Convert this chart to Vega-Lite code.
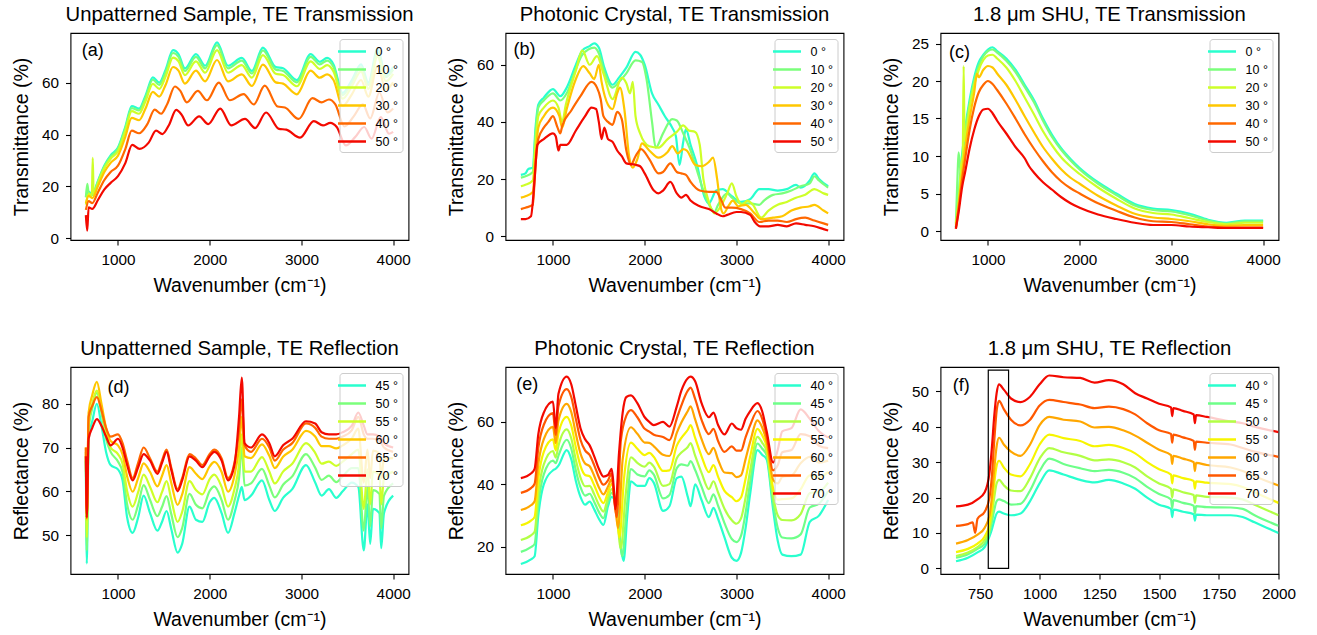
{
"$schema": "https://vega.github.io/schema/vega-lite/v6.json",
"padding": {"left": 10.5, "top": 4, "right": 5, "bottom": 5},
"background": "white",
"bounds": "flush",
"columns": 3,
"spacing": {"row": 127, "column": 97},
"resolve": {"scale": {"color": "independent", "x": "independent", "y": "independent"}, "legend": {"color": "independent"}},
"config": {
 "font": "Liberation Sans",
 "view": {"stroke": "black", "strokeWidth": 1.1},
 "axis": {"grid": false, "domain": false, "tickColor": "black", "tickSize": 5, "tickWidth": 1.1, "labelFontSize": 15.3, "labelColor": "black", "labelPadding": 7, "titleFontSize": 19.5, "titleFontWeight": "normal", "titleColor": "black", "titlePadding": 9.5, "labelFlush": false, "labelOverlap": false},
 "title": {"fontSize": 20.3, "fontWeight": "normal", "color": "black", "offset": 8},
 "legend": {"orient": "top-right", "offset": 6, "padding": 4, "fillColor": "rgba(255,255,255,0.8)", "strokeColor": "#cccccc", "cornerRadius": 3, "symbolType": "M-2,0H2", "symbolSize": 196, "symbolStrokeWidth": 2.5, "labelFontSize": 12.5, "labelColor": "black", "labelOffset": 15, "rowPadding": 3, "titleFontSize": 1},
 "text": {"color": "black"}
},
"datasets": {
"a": [
{"x":650,"y":16,"s":0},{"x":680,"y":18,"s":0},{"x":720,"y":17,"s":0},{"x":780,"y":22,"s":0},{"x":850,"y":28,"s":0},{"x":920,"y":32,"s":0},{"x":1000,"y":35,"s":0},{"x":1080,"y":43,"s":0},{"x":1150,"y":51,"s":0},{"x":1230,"y":50,"s":0},{"x":1300,"y":55,"s":0},{"x":1380,"y":62,"s":0},{"x":1450,"y":60,"s":0},{"x":1520,"y":65,"s":0},{"x":1600,"y":72.5,"s":0},{"x":1660,"y":71,"s":0},{"x":1730,"y":65.5,"s":0},{"x":1850,"y":71,"s":0},{"x":1950,"y":66.5,"s":0},{"x":2080,"y":75.5,"s":0},{"x":2200,"y":66.5,"s":0},{"x":2350,"y":69.5,"s":0},{"x":2460,"y":64.5,"s":0},{"x":2580,"y":73.5,"s":0},{"x":2720,"y":66,"s":0},{"x":2800,"y":65.5,"s":0},{"x":2950,"y":61,"s":0},{"x":3100,"y":71,"s":0},{"x":3200,"y":68,"s":0},{"x":3280,"y":69.5,"s":0},{"x":3350,"y":67,"s":0},{"x":3450,"y":56,"s":0},{"x":3550,"y":61,"s":0},{"x":3650,"y":67,"s":0},{"x":3730,"y":60,"s":0},{"x":3830,"y":73,"s":0},{"x":3920,"y":63,"s":0},{"x":4000,"y":66,"s":0},
{"x":650,"y":15.8,"s":10},{"x":665,"y":21,"s":10},{"x":680,"y":17.7,"s":10},{"x":720,"y":16.7,"s":10},{"x":780,"y":21.7,"s":10},{"x":850,"y":27.6,"s":10},{"x":920,"y":31.5,"s":10},{"x":1000,"y":34.5,"s":10},{"x":1080,"y":42.4,"s":10},{"x":1150,"y":50.2,"s":10},{"x":1230,"y":49.3,"s":10},{"x":1300,"y":54.2,"s":10},{"x":1380,"y":61.1,"s":10},{"x":1450,"y":59.1,"s":10},{"x":1520,"y":64,"s":10},{"x":1600,"y":71.4,"s":10},{"x":1660,"y":69.9,"s":10},{"x":1730,"y":64.5,"s":10},{"x":1850,"y":69.9,"s":10},{"x":1950,"y":65.5,"s":10},{"x":2080,"y":74.4,"s":10},{"x":2200,"y":65.5,"s":10},{"x":2350,"y":68.5,"s":10},{"x":2460,"y":63.5,"s":10},{"x":2580,"y":72.4,"s":10},{"x":2720,"y":65,"s":10},{"x":2800,"y":64.5,"s":10},{"x":2950,"y":60.1,"s":10},{"x":3100,"y":69.9,"s":10},{"x":3200,"y":67,"s":10},{"x":3280,"y":68.5,"s":10},{"x":3350,"y":66,"s":10},{"x":3450,"y":55.2,"s":10},{"x":3550,"y":60.1,"s":10},{"x":3650,"y":66,"s":10},{"x":3730,"y":59.1,"s":10},{"x":3830,"y":71.9,"s":10},{"x":3920,"y":62.1,"s":10},{"x":4000,"y":65,"s":10},
{"x":650,"y":13,"s":20},{"x":680,"y":17.3,"s":20},{"x":715,"y":16.3,"s":20},{"x":725,"y":31,"s":20},{"x":735,"y":16.5,"s":20},{"x":780,"y":21.1,"s":20},{"x":850,"y":26.9,"s":20},{"x":920,"y":30.7,"s":20},{"x":1000,"y":33.6,"s":20},{"x":1080,"y":41.3,"s":20},{"x":1150,"y":49,"s":20},{"x":1230,"y":48,"s":20},{"x":1300,"y":52.8,"s":20},{"x":1380,"y":59.5,"s":20},{"x":1450,"y":57.6,"s":20},{"x":1520,"y":62.4,"s":20},{"x":1600,"y":69.6,"s":20},{"x":1660,"y":68.2,"s":20},{"x":1730,"y":62.9,"s":20},{"x":1850,"y":68.2,"s":20},{"x":1950,"y":63.8,"s":20},{"x":2080,"y":72.5,"s":20},{"x":2200,"y":63.8,"s":20},{"x":2350,"y":66.7,"s":20},{"x":2460,"y":61.9,"s":20},{"x":2580,"y":70.6,"s":20},{"x":2720,"y":63.4,"s":20},{"x":2800,"y":62.9,"s":20},{"x":2950,"y":58.6,"s":20},{"x":3100,"y":68.2,"s":20},{"x":3200,"y":65.3,"s":20},{"x":3280,"y":66.7,"s":20},{"x":3350,"y":64.3,"s":20},{"x":3450,"y":53.8,"s":20},{"x":3550,"y":58.6,"s":20},{"x":3650,"y":64.3,"s":20},{"x":3730,"y":57.6,"s":20},{"x":3830,"y":70.1,"s":20},{"x":3920,"y":60.5,"s":20},{"x":4000,"y":63.4,"s":20},
{"x":650,"y":13.5,"s":30},{"x":680,"y":16.4,"s":30},{"x":720,"y":15.5,"s":30},{"x":780,"y":20,"s":30},{"x":850,"y":25.5,"s":30},{"x":920,"y":29.1,"s":30},{"x":1000,"y":31.9,"s":30},{"x":1080,"y":39.1,"s":30},{"x":1150,"y":46.4,"s":30},{"x":1230,"y":45.5,"s":30},{"x":1300,"y":50,"s":30},{"x":1380,"y":56.4,"s":30},{"x":1450,"y":54.6,"s":30},{"x":1520,"y":59.2,"s":30},{"x":1600,"y":66,"s":30},{"x":1660,"y":64.6,"s":30},{"x":1730,"y":59.6,"s":30},{"x":1850,"y":64.6,"s":30},{"x":1950,"y":60.5,"s":30},{"x":2080,"y":68.7,"s":30},{"x":2200,"y":60.5,"s":30},{"x":2350,"y":63.2,"s":30},{"x":2460,"y":58.7,"s":30},{"x":2580,"y":66.9,"s":30},{"x":2720,"y":60.1,"s":30},{"x":2800,"y":59.6,"s":30},{"x":2950,"y":55.5,"s":30},{"x":3100,"y":64.6,"s":30},{"x":3200,"y":61.9,"s":30},{"x":3280,"y":63.2,"s":30},{"x":3350,"y":61,"s":30},{"x":3450,"y":51,"s":30},{"x":3550,"y":55.5,"s":30},{"x":3650,"y":61,"s":30},{"x":3730,"y":54.6,"s":30},{"x":3830,"y":66.4,"s":30},{"x":3920,"y":57.3,"s":30},{"x":4000,"y":60.1,"s":30},
{"x":650,"y":11,"s":40},{"x":680,"y":14.4,"s":40},{"x":720,"y":13.6,"s":40},{"x":780,"y":17.6,"s":40},{"x":850,"y":22.4,"s":40},{"x":920,"y":25.6,"s":40},{"x":1000,"y":28,"s":40},{"x":1080,"y":34.4,"s":40},{"x":1150,"y":41.5,"s":40},{"x":1230,"y":40.5,"s":40},{"x":1320,"y":44,"s":40},{"x":1400,"y":49.6,"s":40},{"x":1470,"y":48,"s":40},{"x":1540,"y":52,"s":40},{"x":1620,"y":58.5,"s":40},{"x":1680,"y":56.8,"s":40},{"x":1750,"y":52.4,"s":40},{"x":1870,"y":56.8,"s":40},{"x":1970,"y":53.2,"s":40},{"x":2100,"y":60,"s":40},{"x":2220,"y":53.2,"s":40},{"x":2370,"y":55.6,"s":40},{"x":2480,"y":51.6,"s":40},{"x":2600,"y":58.8,"s":40},{"x":2740,"y":50.8,"s":40},{"x":2820,"y":50.4,"s":40},{"x":2970,"y":46,"s":40},{"x":3120,"y":54,"s":40},{"x":3220,"y":52.4,"s":40},{"x":3300,"y":53.5,"s":40},{"x":3370,"y":51.6,"s":40},{"x":3470,"y":43.1,"s":40},{"x":3570,"y":47,"s":40},{"x":3670,"y":51.6,"s":40},{"x":3750,"y":46.2,"s":40},{"x":3850,"y":56.2,"s":40},{"x":3940,"y":48.5,"s":40},{"x":4000,"y":50,"s":40},
{"x":650,"y":9,"s":50},{"x":665,"y":3,"s":50},{"x":680,"y":12,"s":50},{"x":720,"y":11.4,"s":50},{"x":780,"y":14.7,"s":50},{"x":850,"y":18.8,"s":50},{"x":920,"y":21.4,"s":50},{"x":1000,"y":24,"s":50},{"x":1080,"y":29,"s":50},{"x":1155,"y":36,"s":50},{"x":1235,"y":34.5,"s":50},{"x":1335,"y":36.9,"s":50},{"x":1415,"y":41.5,"s":50},{"x":1485,"y":40.2,"s":50},{"x":1555,"y":43.6,"s":50},{"x":1635,"y":49.5,"s":50},{"x":1695,"y":47.6,"s":50},{"x":1765,"y":43.5,"s":50},{"x":1885,"y":47,"s":50},{"x":1985,"y":44,"s":50},{"x":2115,"y":50,"s":50},{"x":2235,"y":43.5,"s":50},{"x":2385,"y":46,"s":50},{"x":2495,"y":42.5,"s":50},{"x":2615,"y":48.5,"s":50},{"x":2755,"y":42.2,"s":50},{"x":2835,"y":41.9,"s":50},{"x":2985,"y":38.8,"s":50},{"x":3135,"y":45.2,"s":50},{"x":3235,"y":43.5,"s":50},{"x":3315,"y":44.5,"s":50},{"x":3385,"y":42.9,"s":50},{"x":3485,"y":35.8,"s":50},{"x":3585,"y":39,"s":50},{"x":3685,"y":42.9,"s":50},{"x":3765,"y":38.4,"s":50},{"x":3865,"y":46.7,"s":50},{"x":3955,"y":40.3,"s":50},{"x":4000,"y":41,"s":50}
],
"b": [
{"x":650,"y":21.5,"s":0},{"x":700,"y":22,"s":0},{"x":730,"y":23.5,"s":0},{"x":780,"y":24,"s":0},{"x":810,"y":38,"s":0},{"x":840,"y":46,"s":0},{"x":900,"y":48.5,"s":0},{"x":1000,"y":51.5,"s":0},{"x":1080,"y":49,"s":0},{"x":1150,"y":52,"s":0},{"x":1250,"y":60,"s":0},{"x":1320,"y":65,"s":0},{"x":1400,"y":66.5,"s":0},{"x":1450,"y":67.5,"s":0},{"x":1500,"y":66,"s":0},{"x":1560,"y":59,"s":0},{"x":1650,"y":53,"s":0},{"x":1720,"y":55.5,"s":0},{"x":1800,"y":59,"s":0},{"x":1900,"y":64.5,"s":0},{"x":1950,"y":63.5,"s":0},{"x":2000,"y":60,"s":0},{"x":2080,"y":50,"s":0},{"x":2150,"y":46,"s":0},{"x":2220,"y":42,"s":0},{"x":2300,"y":38,"s":0},{"x":2340,"y":35,"s":0},{"x":2380,"y":25,"s":0},{"x":2420,"y":33,"s":0},{"x":2450,"y":37.5,"s":0},{"x":2500,"y":32,"s":0},{"x":2570,"y":25,"s":0},{"x":2650,"y":14,"s":0},{"x":2700,"y":11.5,"s":0},{"x":2780,"y":16,"s":0},{"x":2850,"y":16.5,"s":0},{"x":2950,"y":14,"s":0},{"x":3050,"y":12,"s":0},{"x":3150,"y":13,"s":0},{"x":3250,"y":16.5,"s":0},{"x":3350,"y":16.5,"s":0},{"x":3450,"y":16,"s":0},{"x":3550,"y":16.5,"s":0},{"x":3650,"y":18,"s":0},{"x":3700,"y":17,"s":0},{"x":3800,"y":19.5,"s":0},{"x":3850,"y":22,"s":0},{"x":3900,"y":20,"s":0},{"x":4000,"y":17.5,"s":0},
{"x":650,"y":20.5,"s":10},{"x":700,"y":21,"s":10},{"x":780,"y":22.5,"s":10},{"x":810,"y":36,"s":10},{"x":840,"y":45,"s":10},{"x":900,"y":47.5,"s":10},{"x":1000,"y":50,"s":10},{"x":1080,"y":47.5,"s":10},{"x":1150,"y":50,"s":10},{"x":1250,"y":58.5,"s":10},{"x":1320,"y":63.5,"s":10},{"x":1450,"y":66,"s":10},{"x":1500,"y":64,"s":10},{"x":1560,"y":57.5,"s":10},{"x":1650,"y":52,"s":10},{"x":1720,"y":54,"s":10},{"x":1800,"y":57,"s":10},{"x":1900,"y":61.5,"s":10},{"x":1970,"y":61,"s":10},{"x":2020,"y":55,"s":10},{"x":2080,"y":40,"s":10},{"x":2120,"y":31,"s":10},{"x":2200,"y":36,"s":10},{"x":2300,"y":41,"s":10},{"x":2350,"y":40.5,"s":10},{"x":2420,"y":36,"s":10},{"x":2500,"y":30,"s":10},{"x":2580,"y":22,"s":10},{"x":2650,"y":15,"s":10},{"x":2720,"y":10,"s":10},{"x":2760,"y":8.5,"s":10},{"x":2800,"y":11,"s":10},{"x":2900,"y":15,"s":10},{"x":2950,"y":13.5,"s":10},{"x":3050,"y":11.5,"s":10},{"x":3150,"y":11.5,"s":10},{"x":3250,"y":11,"s":10},{"x":3300,"y":12.5,"s":10},{"x":3400,"y":14.5,"s":10},{"x":3500,"y":15,"s":10},{"x":3600,"y":16,"s":10},{"x":3700,"y":17.5,"s":10},{"x":3800,"y":18.5,"s":10},{"x":3850,"y":21,"s":10},{"x":3900,"y":19.5,"s":10},{"x":4000,"y":17,"s":10},
{"x":650,"y":17.5,"s":20},{"x":700,"y":18,"s":20},{"x":780,"y":19.5,"s":20},{"x":810,"y":32,"s":20},{"x":840,"y":42,"s":20},{"x":900,"y":45,"s":20},{"x":1000,"y":47.5,"s":20},{"x":1060,"y":45,"s":20},{"x":1100,"y":40,"s":20},{"x":1140,"y":46,"s":20},{"x":1250,"y":58,"s":20},{"x":1320,"y":65,"s":20},{"x":1400,"y":60,"s":20},{"x":1480,"y":63,"s":20},{"x":1550,"y":57,"s":20},{"x":1650,"y":48,"s":20},{"x":1750,"y":55.5,"s":20},{"x":1800,"y":53.5,"s":20},{"x":1840,"y":50,"s":20},{"x":1870,"y":54,"s":20},{"x":1900,"y":42,"s":20},{"x":1950,"y":36,"s":20},{"x":2050,"y":31.5,"s":20},{"x":2150,"y":31,"s":20},{"x":2250,"y":34,"s":20},{"x":2350,"y":36.5,"s":20},{"x":2420,"y":38.8,"s":20},{"x":2480,"y":37,"s":20},{"x":2550,"y":36.5,"s":20},{"x":2600,"y":32,"s":20},{"x":2640,"y":20,"s":20},{"x":2700,"y":12,"s":20},{"x":2760,"y":8,"s":20},{"x":2820,"y":10,"s":20},{"x":2900,"y":15,"s":20},{"x":2950,"y":18.5,"s":20},{"x":3000,"y":14,"s":20},{"x":3060,"y":11,"s":20},{"x":3120,"y":12.5,"s":20},{"x":3180,"y":11,"s":20},{"x":3270,"y":6.5,"s":20},{"x":3350,"y":9,"s":20},{"x":3450,"y":11,"s":20},{"x":3550,"y":12,"s":20},{"x":3650,"y":13.5,"s":20},{"x":3750,"y":14.5,"s":20},{"x":3850,"y":16.5,"s":20},{"x":3950,"y":15,"s":20},{"x":4000,"y":14.5,"s":20},
{"x":650,"y":13.5,"s":30},{"x":700,"y":14,"s":30},{"x":780,"y":15.5,"s":30},{"x":810,"y":28,"s":30},{"x":840,"y":38,"s":30},{"x":900,"y":42,"s":30},{"x":1000,"y":45,"s":30},{"x":1070,"y":42,"s":30},{"x":1100,"y":38,"s":30},{"x":1150,"y":44.5,"s":30},{"x":1250,"y":55,"s":30},{"x":1330,"y":59.5,"s":30},{"x":1400,"y":57,"s":30},{"x":1450,"y":55,"s":30},{"x":1500,"y":60,"s":30},{"x":1530,"y":54,"s":30},{"x":1600,"y":46,"s":30},{"x":1650,"y":44.5,"s":30},{"x":1700,"y":50,"s":30},{"x":1730,"y":52,"s":30},{"x":1780,"y":44,"s":30},{"x":1830,"y":28,"s":30},{"x":1870,"y":24,"s":30},{"x":1920,"y":27,"s":30},{"x":1970,"y":32.5,"s":30},{"x":2050,"y":30,"s":30},{"x":2150,"y":27.5,"s":30},{"x":2250,"y":29.5,"s":30},{"x":2300,"y":31.5,"s":30},{"x":2360,"y":29,"s":30},{"x":2420,"y":30.5,"s":30},{"x":2460,"y":30,"s":30},{"x":2550,"y":25,"s":30},{"x":2620,"y":24.5,"s":30},{"x":2700,"y":26,"s":30},{"x":2745,"y":27.5,"s":30},{"x":2790,"y":20,"s":30},{"x":2830,"y":10,"s":30},{"x":2860,"y":8,"s":30},{"x":2920,"y":11,"s":30},{"x":2960,"y":12.5,"s":30},{"x":3020,"y":10.5,"s":30},{"x":3100,"y":11,"s":30},{"x":3200,"y":8,"s":30},{"x":3270,"y":6,"s":30},{"x":3400,"y":6.5,"s":30},{"x":3500,"y":7,"s":30},{"x":3600,"y":9,"s":30},{"x":3700,"y":10,"s":30},{"x":3800,"y":10.5,"s":30},{"x":3850,"y":11,"s":30},{"x":3950,"y":9,"s":30},{"x":4000,"y":8,"s":30},
{"x":650,"y":9.5,"s":40},{"x":700,"y":10,"s":40},{"x":780,"y":11,"s":40},{"x":810,"y":25,"s":40},{"x":840,"y":34,"s":40},{"x":900,"y":38,"s":40},{"x":950,"y":40,"s":40},{"x":1000,"y":42,"s":40},{"x":1050,"y":38,"s":40},{"x":1080,"y":36,"s":40},{"x":1100,"y":38.5,"s":40},{"x":1200,"y":44,"s":40},{"x":1300,"y":49,"s":40},{"x":1420,"y":54,"s":40},{"x":1480,"y":52,"s":40},{"x":1520,"y":48,"s":40},{"x":1550,"y":42,"s":40},{"x":1600,"y":40,"s":40},{"x":1650,"y":39,"s":40},{"x":1700,"y":43.5,"s":40},{"x":1750,"y":41,"s":40},{"x":1800,"y":30,"s":40},{"x":1850,"y":25,"s":40},{"x":1900,"y":28,"s":40},{"x":1960,"y":30.5,"s":40},{"x":2050,"y":27,"s":40},{"x":2150,"y":22,"s":40},{"x":2200,"y":22.5,"s":40},{"x":2280,"y":25.5,"s":40},{"x":2350,"y":22.5,"s":40},{"x":2400,"y":22,"s":40},{"x":2450,"y":21.5,"s":40},{"x":2500,"y":19,"s":40},{"x":2600,"y":16,"s":40},{"x":2700,"y":15.5,"s":40},{"x":2780,"y":15.5,"s":40},{"x":2830,"y":13,"s":40},{"x":2880,"y":10,"s":40},{"x":2950,"y":10,"s":40},{"x":3050,"y":9.5,"s":40},{"x":3150,"y":8,"s":40},{"x":3250,"y":5,"s":40},{"x":3350,"y":5.5,"s":40},{"x":3450,"y":5.5,"s":40},{"x":3550,"y":5,"s":40},{"x":3650,"y":6,"s":40},{"x":3750,"y":6.5,"s":40},{"x":3850,"y":5.5,"s":40},{"x":3950,"y":4.5,"s":40},{"x":4000,"y":4,"s":40},
{"x":650,"y":6,"s":50},{"x":700,"y":6,"s":50},{"x":760,"y":7,"s":50},{"x":800,"y":20,"s":50},{"x":830,"y":32,"s":50},{"x":900,"y":34,"s":50},{"x":1000,"y":36,"s":50},{"x":1030,"y":35,"s":50},{"x":1060,"y":30,"s":50},{"x":1080,"y":32,"s":50},{"x":1150,"y":32,"s":50},{"x":1250,"y":37,"s":50},{"x":1350,"y":42,"s":50},{"x":1420,"y":45,"s":50},{"x":1470,"y":44.5,"s":50},{"x":1500,"y":40,"s":50},{"x":1530,"y":34,"s":50},{"x":1560,"y":38,"s":50},{"x":1600,"y":34,"s":50},{"x":1650,"y":33,"s":50},{"x":1700,"y":30,"s":50},{"x":1750,"y":28,"s":50},{"x":1800,"y":25.5,"s":50},{"x":1900,"y":25,"s":50},{"x":1950,"y":24.5,"s":50},{"x":2000,"y":22,"s":50},{"x":2100,"y":16,"s":50},{"x":2150,"y":15,"s":50},{"x":2200,"y":16,"s":50},{"x":2280,"y":19,"s":50},{"x":2350,"y":15,"s":50},{"x":2400,"y":13.5,"s":50},{"x":2450,"y":14.5,"s":50},{"x":2500,"y":12.5,"s":50},{"x":2600,"y":10.5,"s":50},{"x":2700,"y":9.5,"s":50},{"x":2780,"y":8,"s":50},{"x":2850,"y":7,"s":50},{"x":2900,"y":7.5,"s":50},{"x":3000,"y":8.5,"s":50},{"x":3050,"y":8.5,"s":50},{"x":3150,"y":7.5,"s":50},{"x":3200,"y":5,"s":50},{"x":3260,"y":3.5,"s":50},{"x":3350,"y":3.5,"s":50},{"x":3450,"y":4,"s":50},{"x":3550,"y":3.5,"s":50},{"x":3650,"y":4.5,"s":50},{"x":3750,"y":4,"s":50},{"x":3850,"y":3.5,"s":50},{"x":3950,"y":2.5,"s":50},{"x":4000,"y":2,"s":50}
],
"c": [
{"x":650,"y":0.5,"s":0},{"x":670,"y":3,"s":0},{"x":700,"y":8,"s":0},{"x":750,"y":13.5,"s":0},{"x":800,"y":17.5,"s":0},{"x":850,"y":20.5,"s":0},{"x":900,"y":22.5,"s":0},{"x":950,"y":23.5,"s":0},{"x":1000,"y":24.2,"s":0},{"x":1050,"y":24.5,"s":0},{"x":1100,"y":24,"s":0},{"x":1200,"y":23,"s":0},{"x":1300,"y":21.5,"s":0},{"x":1400,"y":19.5,"s":0},{"x":1500,"y":17.5,"s":0},{"x":1600,"y":15,"s":0},{"x":1700,"y":12.8,"s":0},{"x":1800,"y":11,"s":0},{"x":1900,"y":9.6,"s":0},{"x":2000,"y":8.4,"s":0},{"x":2200,"y":6.5,"s":0},{"x":2400,"y":5,"s":0},{"x":2600,"y":3.6,"s":0},{"x":2800,"y":3,"s":0},{"x":3000,"y":2.8,"s":0},{"x":3200,"y":2.3,"s":0},{"x":3400,"y":1.5,"s":0},{"x":3600,"y":1.1,"s":0},{"x":3800,"y":1.4,"s":0},{"x":4000,"y":1.4,"s":0},
{"x":650,"y":1,"s":10},{"x":670,"y":8,"s":10},{"x":680,"y":10.5,"s":10},{"x":700,"y":8,"s":10},{"x":750,"y":13,"s":10},{"x":800,"y":17,"s":10},{"x":850,"y":20,"s":10},{"x":900,"y":22,"s":10},{"x":950,"y":23.3,"s":10},{"x":1000,"y":24,"s":10},{"x":1050,"y":24.2,"s":10},{"x":1100,"y":23.8,"s":10},{"x":1200,"y":22.7,"s":10},{"x":1300,"y":21.2,"s":10},{"x":1400,"y":19.2,"s":10},{"x":1500,"y":17.2,"s":10},{"x":1600,"y":14.7,"s":10},{"x":1700,"y":12.5,"s":10},{"x":1800,"y":10.8,"s":10},{"x":1900,"y":9.4,"s":10},{"x":2000,"y":8.2,"s":10},{"x":2200,"y":6.3,"s":10},{"x":2400,"y":4.8,"s":10},{"x":2600,"y":3.4,"s":10},{"x":2800,"y":2.8,"s":10},{"x":3000,"y":2.6,"s":10},{"x":3200,"y":2.1,"s":10},{"x":3400,"y":1.4,"s":10},{"x":3600,"y":1,"s":10},{"x":3800,"y":1.3,"s":10},{"x":4000,"y":1.3,"s":10},
{"x":650,"y":0.8,"s":20},{"x":680,"y":4,"s":20},{"x":710,"y":9,"s":20},{"x":725,"y":10,"s":20},{"x":735,"y":22,"s":20},{"x":745,"y":12,"s":20},{"x":800,"y":16.5,"s":20},{"x":850,"y":19.5,"s":20},{"x":900,"y":21.5,"s":20},{"x":950,"y":22.8,"s":20},{"x":1000,"y":23.4,"s":20},{"x":1050,"y":23.5,"s":20},{"x":1100,"y":23,"s":20},{"x":1200,"y":21.8,"s":20},{"x":1300,"y":20,"s":20},{"x":1400,"y":17.8,"s":20},{"x":1500,"y":15.6,"s":20},{"x":1600,"y":13.3,"s":20},{"x":1700,"y":11.4,"s":20},{"x":1800,"y":9.8,"s":20},{"x":1900,"y":8.6,"s":20},{"x":2000,"y":7.6,"s":20},{"x":2200,"y":5.8,"s":20},{"x":2400,"y":4.3,"s":20},{"x":2600,"y":3,"s":20},{"x":2800,"y":2.4,"s":20},{"x":3000,"y":2.2,"s":20},{"x":3200,"y":1.7,"s":20},{"x":3400,"y":1.2,"s":20},{"x":3600,"y":0.9,"s":20},{"x":3800,"y":1.1,"s":20},{"x":4000,"y":1.1,"s":20},
{"x":650,"y":0.5,"s":30},{"x":680,"y":3.5,"s":30},{"x":720,"y":8,"s":30},{"x":750,"y":11,"s":30},{"x":800,"y":15,"s":30},{"x":850,"y":18.5,"s":30},{"x":880,"y":21,"s":30},{"x":900,"y":20.5,"s":30},{"x":950,"y":21.5,"s":30},{"x":1000,"y":22,"s":30},{"x":1050,"y":21.8,"s":30},{"x":1100,"y":21,"s":30},{"x":1200,"y":19.5,"s":30},{"x":1300,"y":17.5,"s":30},{"x":1400,"y":15.3,"s":30},{"x":1500,"y":13.2,"s":30},{"x":1600,"y":11.2,"s":30},{"x":1700,"y":9.6,"s":30},{"x":1800,"y":8.2,"s":30},{"x":1900,"y":7.1,"s":30},{"x":2000,"y":6.3,"s":30},{"x":2200,"y":4.7,"s":30},{"x":2400,"y":3.4,"s":30},{"x":2600,"y":2.3,"s":30},{"x":2800,"y":1.8,"s":30},{"x":3000,"y":1.6,"s":30},{"x":3200,"y":1.3,"s":30},{"x":3400,"y":0.9,"s":30},{"x":3600,"y":0.7,"s":30},{"x":3800,"y":0.8,"s":30},{"x":4000,"y":0.8,"s":30},
{"x":650,"y":0.3,"s":40},{"x":680,"y":3,"s":40},{"x":720,"y":7,"s":40},{"x":750,"y":9.5,"s":40},{"x":800,"y":13.5,"s":40},{"x":850,"y":16.5,"s":40},{"x":900,"y":18.5,"s":40},{"x":950,"y":19.5,"s":40},{"x":1000,"y":20,"s":40},{"x":1050,"y":19.6,"s":40},{"x":1100,"y":18.8,"s":40},{"x":1200,"y":17,"s":40},{"x":1300,"y":15,"s":40},{"x":1400,"y":12.9,"s":40},{"x":1500,"y":11,"s":40},{"x":1600,"y":9.3,"s":40},{"x":1700,"y":7.8,"s":40},{"x":1800,"y":6.6,"s":40},{"x":1900,"y":5.7,"s":40},{"x":2000,"y":5,"s":40},{"x":2200,"y":3.7,"s":40},{"x":2400,"y":2.7,"s":40},{"x":2600,"y":1.8,"s":40},{"x":2800,"y":1.3,"s":40},{"x":3000,"y":1.2,"s":40},{"x":3200,"y":0.9,"s":40},{"x":3400,"y":0.6,"s":40},{"x":3600,"y":0.5,"s":40},{"x":3800,"y":0.5,"s":40},{"x":4000,"y":0.5,"s":40},
{"x":650,"y":0.3,"s":50},{"x":680,"y":2.5,"s":50},{"x":720,"y":6,"s":50},{"x":750,"y":7.8,"s":50},{"x":800,"y":11,"s":50},{"x":850,"y":13.5,"s":50},{"x":900,"y":15.3,"s":50},{"x":950,"y":16.2,"s":50},{"x":1000,"y":16.3,"s":50},{"x":1050,"y":15.7,"s":50},{"x":1100,"y":14.7,"s":50},{"x":1200,"y":13,"s":50},{"x":1300,"y":11.2,"s":50},{"x":1400,"y":9.7,"s":50},{"x":1450,"y":8.6,"s":50},{"x":1500,"y":7.8,"s":50},{"x":1600,"y":6.5,"s":50},{"x":1700,"y":5.5,"s":50},{"x":1800,"y":4.5,"s":50},{"x":1900,"y":3.7,"s":50},{"x":2000,"y":3.1,"s":50},{"x":2200,"y":2.2,"s":50},{"x":2400,"y":1.6,"s":50},{"x":2600,"y":1.1,"s":50},{"x":2800,"y":0.8,"s":50},{"x":3000,"y":0.8,"s":50},{"x":3200,"y":0.6,"s":50},{"x":3400,"y":0.5,"s":50},{"x":3600,"y":0.4,"s":50},{"x":3800,"y":0.4,"s":50},{"x":4000,"y":0.4,"s":50}
],
"d": [
{"x":650,"y":67,"s":45},{"x":660,"y":43.5,"s":45},{"x":680,"y":72,"s":45},{"x":720,"y":76,"s":45},{"x":770,"y":80,"s":45},{"x":820,"y":75,"s":45},{"x":870,"y":69,"s":45},{"x":920,"y":66,"s":45},{"x":1000,"y":65,"s":45},{"x":1050,"y":62.5,"s":45},{"x":1100,"y":54,"s":45},{"x":1160,"y":50.5,"s":45},{"x":1220,"y":54,"s":45},{"x":1280,"y":59,"s":45},{"x":1350,"y":55,"s":45},{"x":1430,"y":51,"s":45},{"x":1480,"y":53,"s":45},{"x":1530,"y":55.5,"s":45},{"x":1580,"y":51.5,"s":45},{"x":1650,"y":46,"s":45},{"x":1700,"y":48,"s":45},{"x":1780,"y":56.5,"s":45},{"x":1850,"y":53.5,"s":45},{"x":1920,"y":53,"s":45},{"x":2000,"y":57.5,"s":45},{"x":2050,"y":58.5,"s":45},{"x":2130,"y":55,"s":45},{"x":2200,"y":50.5,"s":45},{"x":2270,"y":55,"s":45},{"x":2320,"y":59,"s":45},{"x":2350,"y":61,"s":45},{"x":2380,"y":58,"s":45},{"x":2450,"y":59,"s":45},{"x":2570,"y":62.5,"s":45},{"x":2650,"y":58,"s":45},{"x":2710,"y":55.5,"s":45},{"x":2800,"y":58.5,"s":45},{"x":2900,"y":60.5,"s":45},{"x":3050,"y":66,"s":45},{"x":3150,"y":62,"s":45},{"x":3220,"y":59,"s":45},{"x":3300,"y":60.5,"s":45},{"x":3380,"y":58.5,"s":45},{"x":3450,"y":60,"s":45},{"x":3550,"y":62,"s":45},{"x":3620,"y":61,"s":45},{"x":3680,"y":46.5,"s":45},{"x":3720,"y":57,"s":45},{"x":3750,"y":48,"s":45},{"x":3780,"y":56,"s":45},{"x":3850,"y":55,"s":45},{"x":3870,"y":47,"s":45},{"x":3900,"y":55,"s":45},{"x":4000,"y":59,"s":45},
{"x":650,"y":68,"s":50},{"x":660,"y":46.5,"s":50},{"x":680,"y":74,"s":50},{"x":720,"y":79,"s":50},{"x":770,"y":82.5,"s":50},{"x":820,"y":78,"s":50},{"x":870,"y":72,"s":50},{"x":920,"y":69,"s":50},{"x":1000,"y":66.8,"s":50},{"x":1050,"y":64.4,"s":50},{"x":1100,"y":57,"s":50},{"x":1160,"y":53.5,"s":50},{"x":1220,"y":56.9,"s":50},{"x":1280,"y":61.4,"s":50},{"x":1350,"y":58,"s":50},{"x":1430,"y":54.3,"s":50},{"x":1480,"y":56.4,"s":50},{"x":1530,"y":58.9,"s":50},{"x":1580,"y":54.9,"s":50},{"x":1650,"y":49.5,"s":50},{"x":1700,"y":51.6,"s":50},{"x":1780,"y":59.4,"s":50},{"x":1850,"y":56.9,"s":50},{"x":1920,"y":56.1,"s":50},{"x":2000,"y":60.1,"s":50},{"x":2050,"y":61.1,"s":50},{"x":2130,"y":58,"s":50},{"x":2200,"y":53.5,"s":50},{"x":2270,"y":57.8,"s":50},{"x":2320,"y":63,"s":50},{"x":2350,"y":70,"s":50},{"x":2380,"y":61.3,"s":50},{"x":2450,"y":61.8,"s":50},{"x":2570,"y":65.1,"s":50},{"x":2650,"y":61.3,"s":50},{"x":2710,"y":58.6,"s":50},{"x":2800,"y":61.5,"s":50},{"x":2900,"y":63.4,"s":50},{"x":3050,"y":68.5,"s":50},{"x":3150,"y":65.4,"s":50},{"x":3220,"y":62.6,"s":50},{"x":3300,"y":63.6,"s":50},{"x":3380,"y":62.1,"s":50},{"x":3450,"y":63.4,"s":50},{"x":3550,"y":65.3,"s":50},{"x":3620,"y":65.3,"s":50},{"x":3680,"y":51,"s":50},{"x":3720,"y":61,"s":50},{"x":3750,"y":52,"s":50},{"x":3780,"y":60.3,"s":50},{"x":3850,"y":59.4,"s":50},{"x":3870,"y":51.5,"s":50},{"x":3900,"y":59,"s":50},{"x":4000,"y":61.8,"s":50},
{"x":650,"y":69,"s":55},{"x":660,"y":49.5,"s":55},{"x":680,"y":75,"s":55},{"x":720,"y":80,"s":55},{"x":770,"y":83,"s":55},{"x":820,"y":79,"s":55},{"x":870,"y":73.5,"s":55},{"x":920,"y":70,"s":55},{"x":1000,"y":68.5,"s":55},{"x":1050,"y":66.3,"s":55},{"x":1100,"y":60,"s":55},{"x":1160,"y":56.5,"s":55},{"x":1220,"y":59.8,"s":55},{"x":1280,"y":63.8,"s":55},{"x":1350,"y":61,"s":55},{"x":1430,"y":57.5,"s":55},{"x":1480,"y":59.8,"s":55},{"x":1530,"y":62.3,"s":55},{"x":1580,"y":58.3,"s":55},{"x":1650,"y":53,"s":55},{"x":1700,"y":55.3,"s":55},{"x":1780,"y":62.3,"s":55},{"x":1850,"y":60.3,"s":55},{"x":1920,"y":59.3,"s":55},{"x":2000,"y":62.8,"s":55},{"x":2050,"y":63.8,"s":55},{"x":2130,"y":61,"s":55},{"x":2200,"y":56.5,"s":55},{"x":2270,"y":60.5,"s":55},{"x":2320,"y":66,"s":55},{"x":2350,"y":73,"s":55},{"x":2380,"y":64.5,"s":55},{"x":2450,"y":64.5,"s":55},{"x":2570,"y":67.8,"s":55},{"x":2650,"y":64.5,"s":55},{"x":2710,"y":61.8,"s":55},{"x":2800,"y":64.5,"s":55},{"x":2900,"y":66.3,"s":55},{"x":3050,"y":71,"s":55},{"x":3150,"y":68.8,"s":55},{"x":3220,"y":66.3,"s":55},{"x":3300,"y":66.8,"s":55},{"x":3380,"y":65.8,"s":55},{"x":3450,"y":66.8,"s":55},{"x":3550,"y":68.5,"s":55},{"x":3620,"y":69.5,"s":55},{"x":3680,"y":56,"s":55},{"x":3720,"y":65,"s":55},{"x":3750,"y":57,"s":55},{"x":3780,"y":64.5,"s":55},{"x":3850,"y":63.8,"s":55},{"x":3870,"y":57,"s":55},{"x":3900,"y":63,"s":55},{"x":4000,"y":64.5,"s":55},
{"x":650,"y":70,"s":60},{"x":660,"y":53.5,"s":60},{"x":680,"y":78,"s":60},{"x":720,"y":82,"s":60},{"x":770,"y":85,"s":60},{"x":820,"y":80,"s":60},{"x":870,"y":74.5,"s":60},{"x":920,"y":71.5,"s":60},{"x":1000,"y":70.5,"s":60},{"x":1050,"y":68.4,"s":60},{"x":1100,"y":63.4,"s":60},{"x":1160,"y":59.9,"s":60},{"x":1220,"y":63,"s":60},{"x":1280,"y":66.4,"s":60},{"x":1350,"y":64.4,"s":60},{"x":1430,"y":61.1,"s":60},{"x":1480,"y":63.5,"s":60},{"x":1530,"y":66,"s":60},{"x":1580,"y":62,"s":60},{"x":1650,"y":56.9,"s":60},{"x":1700,"y":59.3,"s":60},{"x":1780,"y":65.5,"s":60},{"x":1850,"y":64,"s":60},{"x":1920,"y":62.8,"s":60},{"x":2000,"y":65.7,"s":60},{"x":2050,"y":66.7,"s":60},{"x":2130,"y":64.4,"s":60},{"x":2200,"y":59.9,"s":60},{"x":2270,"y":63.6,"s":60},{"x":2320,"y":70,"s":60},{"x":2350,"y":77,"s":60},{"x":2380,"y":68,"s":60},{"x":2450,"y":67.6,"s":60},{"x":2570,"y":70.7,"s":60},{"x":2650,"y":68.1,"s":60},{"x":2710,"y":65.3,"s":60},{"x":2800,"y":67.9,"s":60},{"x":2900,"y":69.5,"s":60},{"x":3050,"y":73.8,"s":60},{"x":3150,"y":72.5,"s":60},{"x":3220,"y":70.3,"s":60},{"x":3300,"y":70.3,"s":60},{"x":3380,"y":69.8,"s":60},{"x":3450,"y":70.5,"s":60},{"x":3550,"y":72.1,"s":60},{"x":3620,"y":74.3,"s":60},{"x":3680,"y":62,"s":60},{"x":3720,"y":69.5,"s":60},{"x":3750,"y":63,"s":60},{"x":3780,"y":69.3,"s":60},{"x":3850,"y":68.7,"s":60},{"x":3870,"y":63,"s":60},{"x":3900,"y":67.5,"s":60},{"x":4000,"y":67.6,"s":60},
{"x":650,"y":70,"s":65},{"x":660,"y":54,"s":65},{"x":680,"y":77,"s":65},{"x":720,"y":79.5,"s":65},{"x":770,"y":81.5,"s":65},{"x":820,"y":78.5,"s":65},{"x":870,"y":74.5,"s":65},{"x":920,"y":72.5,"s":65},{"x":1000,"y":73,"s":65},{"x":1050,"y":71,"s":65},{"x":1100,"y":67,"s":65},{"x":1160,"y":63,"s":65},{"x":1220,"y":66.5,"s":65},{"x":1280,"y":70,"s":65},{"x":1350,"y":67.5,"s":65},{"x":1430,"y":64.5,"s":65},{"x":1480,"y":67,"s":65},{"x":1530,"y":69.5,"s":65},{"x":1580,"y":65.5,"s":65},{"x":1650,"y":60.5,"s":65},{"x":1700,"y":63,"s":65},{"x":1780,"y":68.5,"s":65},{"x":1850,"y":67.5,"s":65},{"x":1920,"y":66,"s":65},{"x":2000,"y":68.5,"s":65},{"x":2050,"y":69.5,"s":65},{"x":2130,"y":67.5,"s":65},{"x":2200,"y":63,"s":65},{"x":2270,"y":66.5,"s":65},{"x":2320,"y":74,"s":65},{"x":2350,"y":81,"s":65},{"x":2380,"y":70.5,"s":65},{"x":2450,"y":69,"s":65},{"x":2570,"y":72,"s":65},{"x":2650,"y":70,"s":65},{"x":2710,"y":67,"s":65},{"x":2800,"y":69.5,"s":65},{"x":2900,"y":71,"s":65},{"x":3050,"y":75.5,"s":65},{"x":3150,"y":74.5,"s":65},{"x":3220,"y":72.5,"s":65},{"x":3300,"y":72,"s":65},{"x":3380,"y":72,"s":65},{"x":3450,"y":72.5,"s":65},{"x":3550,"y":74,"s":65},{"x":3620,"y":77,"s":65},{"x":3680,"y":73,"s":65},{"x":3720,"y":72,"s":65},{"x":3750,"y":72,"s":65},{"x":3780,"y":72,"s":65},{"x":3850,"y":71.5,"s":65},{"x":3870,"y":71,"s":65},{"x":3900,"y":70,"s":65},{"x":4000,"y":69,"s":65},
{"x":650,"y":68,"s":70},{"x":660,"y":54,"s":70},{"x":680,"y":72,"s":70},{"x":720,"y":74.5,"s":70},{"x":770,"y":76.5,"s":70},{"x":820,"y":75,"s":70},{"x":870,"y":72.5,"s":70},{"x":920,"y":70.5,"s":70},{"x":1000,"y":72,"s":70},{"x":1050,"y":70,"s":70},{"x":1100,"y":66,"s":70},{"x":1160,"y":62.5,"s":70},{"x":1220,"y":65.5,"s":70},{"x":1280,"y":68.5,"s":70},{"x":1350,"y":67,"s":70},{"x":1430,"y":64,"s":70},{"x":1480,"y":66.5,"s":70},{"x":1530,"y":69,"s":70},{"x":1580,"y":65,"s":70},{"x":1650,"y":60,"s":70},{"x":1700,"y":62.5,"s":70},{"x":1780,"y":68,"s":70},{"x":1850,"y":67,"s":70},{"x":1920,"y":65.5,"s":70},{"x":2000,"y":68,"s":70},{"x":2050,"y":69,"s":70},{"x":2130,"y":67,"s":70},{"x":2200,"y":62.5,"s":70},{"x":2270,"y":66,"s":70},{"x":2320,"y":77,"s":70},{"x":2350,"y":86,"s":70},{"x":2380,"y":71,"s":70},{"x":2450,"y":70,"s":70},{"x":2570,"y":73,"s":70},{"x":2650,"y":71,"s":70},{"x":2710,"y":68,"s":70},{"x":2800,"y":70.5,"s":70},{"x":2900,"y":72,"s":70},{"x":3050,"y":76,"s":70},{"x":3150,"y":75.5,"s":70},{"x":3220,"y":73.5,"s":70},{"x":3300,"y":73,"s":70},{"x":3380,"y":73,"s":70},{"x":3450,"y":73.5,"s":70},{"x":3550,"y":75,"s":70},{"x":3620,"y":78,"s":70},{"x":3680,"y":75,"s":70},{"x":3720,"y":73,"s":70},{"x":3750,"y":73,"s":70},{"x":3780,"y":73,"s":70},{"x":3850,"y":72.5,"s":70},{"x":3870,"y":72,"s":70},{"x":3900,"y":71,"s":70},{"x":4000,"y":70,"s":70}
],
"e": [
{"x":650,"y":14.5,"s":40},{"x":760,"y":16,"s":40},{"x":800,"y":17,"s":40},{"x":840,"y":30,"s":40},{"x":900,"y":40,"s":40},{"x":1000,"y":44.5,"s":40},{"x":1030,"y":45,"s":40},{"x":1060,"y":46,"s":40},{"x":1150,"y":51,"s":40},{"x":1200,"y":48,"s":40},{"x":1250,"y":41,"s":40},{"x":1300,"y":36,"s":40},{"x":1350,"y":33.5,"s":40},{"x":1400,"y":34.5,"s":40},{"x":1450,"y":32,"s":40},{"x":1500,"y":29,"s":40},{"x":1550,"y":27,"s":40},{"x":1600,"y":33,"s":40},{"x":1640,"y":36,"s":40},{"x":1700,"y":32,"s":40},{"x":1740,"y":20,"s":40},{"x":1770,"y":15.5,"s":40},{"x":1810,"y":30,"s":40},{"x":1850,"y":41,"s":40},{"x":1920,"y":39.5,"s":40},{"x":2000,"y":39.5,"s":40},{"x":2050,"y":42,"s":40},{"x":2100,"y":40.5,"s":40},{"x":2200,"y":31.5,"s":40},{"x":2270,"y":33,"s":40},{"x":2350,"y":42,"s":40},{"x":2400,"y":42.5,"s":40},{"x":2470,"y":36,"s":40},{"x":2500,"y":33,"s":40},{"x":2550,"y":40,"s":40},{"x":2620,"y":35,"s":40},{"x":2700,"y":29.5,"s":40},{"x":2750,"y":32.5,"s":40},{"x":2800,"y":29,"s":40},{"x":2870,"y":23,"s":40},{"x":2950,"y":16.5,"s":40},{"x":3000,"y":15.5,"s":40},{"x":3050,"y":18,"s":40},{"x":3100,"y":26,"s":40},{"x":3150,"y":37,"s":40},{"x":3230,"y":51,"s":40},{"x":3280,"y":49.5,"s":40},{"x":3330,"y":48,"s":40},{"x":3400,"y":32,"s":40},{"x":3450,"y":22,"s":40},{"x":3500,"y":17.5,"s":40},{"x":3600,"y":17,"s":40},{"x":3700,"y":17.5,"s":40},{"x":3800,"y":28,"s":40},{"x":3900,"y":30,"s":40},{"x":4000,"y":35,"s":40},
{"x":650,"y":18.4,"s":45},{"x":760,"y":19.9,"s":45},{"x":800,"y":20.9,"s":45},{"x":840,"y":33.6,"s":45},{"x":900,"y":43.2,"s":45},{"x":1000,"y":47.6,"s":45},{"x":1030,"y":46.8,"s":45},{"x":1060,"y":49.2,"s":45},{"x":1150,"y":54.3,"s":45},{"x":1200,"y":51.4,"s":45},{"x":1250,"y":44.4,"s":45},{"x":1300,"y":39.1,"s":45},{"x":1350,"y":36.4,"s":45},{"x":1400,"y":37,"s":45},{"x":1450,"y":34.4,"s":45},{"x":1500,"y":31.2,"s":45},{"x":1550,"y":29.2,"s":45},{"x":1600,"y":34.4,"s":45},{"x":1640,"y":37.3,"s":45},{"x":1700,"y":32.5,"s":45},{"x":1755,"y":17,"s":45},{"x":1800,"y":31,"s":45},{"x":1850,"y":44.9,"s":45},{"x":1920,"y":43.2,"s":45},{"x":2000,"y":42.6,"s":45},{"x":2050,"y":44.5,"s":45},{"x":2100,"y":43.1,"s":45},{"x":2200,"y":35.5,"s":45},{"x":2270,"y":36.6,"s":45},{"x":2350,"y":45.2,"s":45},{"x":2400,"y":46.4,"s":45},{"x":2470,"y":46,"s":45},{"x":2500,"y":47.5,"s":45},{"x":2550,"y":44.6,"s":45},{"x":2620,"y":39.3,"s":45},{"x":2700,"y":34,"s":45},{"x":2750,"y":36.8,"s":45},{"x":2800,"y":33.2,"s":45},{"x":2870,"y":27.6,"s":45},{"x":2950,"y":22.5,"s":45},{"x":3000,"y":21.5,"s":45},{"x":3050,"y":23.5,"s":45},{"x":3100,"y":30.9,"s":45},{"x":3150,"y":40.7,"s":45},{"x":3230,"y":53.1,"s":45},{"x":3280,"y":51.5,"s":45},{"x":3330,"y":49.3,"s":45},{"x":3400,"y":34.1,"s":45},{"x":3450,"y":26.1,"s":45},{"x":3500,"y":23,"s":45},{"x":3600,"y":22.7,"s":45},{"x":3700,"y":24,"s":45},{"x":3800,"y":32.6,"s":45},{"x":3900,"y":33.8,"s":45},{"x":4000,"y":37.8,"s":45},
{"x":650,"y":22.2,"s":50},{"x":760,"y":23.7,"s":50},{"x":800,"y":24.8,"s":50},{"x":840,"y":37.3,"s":50},{"x":900,"y":46.4,"s":50},{"x":1000,"y":50.7,"s":50},{"x":1030,"y":48.6,"s":50},{"x":1060,"y":52.4,"s":50},{"x":1150,"y":57.6,"s":50},{"x":1200,"y":54.7,"s":50},{"x":1250,"y":47.7,"s":50},{"x":1300,"y":42.2,"s":50},{"x":1350,"y":39.4,"s":50},{"x":1400,"y":39.5,"s":50},{"x":1450,"y":36.8,"s":50},{"x":1500,"y":33.5,"s":50},{"x":1550,"y":31.3,"s":50},{"x":1600,"y":35.8,"s":50},{"x":1640,"y":38.5,"s":50},{"x":1690,"y":32.5,"s":50},{"x":1740,"y":19.5,"s":50},{"x":1790,"y":36,"s":50},{"x":1850,"y":48.7,"s":50},{"x":1920,"y":46.9,"s":50},{"x":2000,"y":45.7,"s":50},{"x":2050,"y":47,"s":50},{"x":2100,"y":45.7,"s":50},{"x":2200,"y":39.5,"s":50},{"x":2270,"y":40.1,"s":50},{"x":2350,"y":48.4,"s":50},{"x":2400,"y":50.2,"s":50},{"x":2470,"y":52,"s":50},{"x":2500,"y":53.2,"s":50},{"x":2550,"y":49.2,"s":50},{"x":2620,"y":43.7,"s":50},{"x":2700,"y":38.5,"s":50},{"x":2750,"y":41,"s":50},{"x":2800,"y":37.4,"s":50},{"x":2870,"y":32.2,"s":50},{"x":2950,"y":28.5,"s":50},{"x":3000,"y":27.4,"s":50},{"x":3050,"y":29.1,"s":50},{"x":3100,"y":35.8,"s":50},{"x":3150,"y":44.4,"s":50},{"x":3230,"y":55.2,"s":50},{"x":3280,"y":53.4,"s":50},{"x":3330,"y":50.5,"s":50},{"x":3400,"y":36.2,"s":50},{"x":3450,"y":30.1,"s":50},{"x":3500,"y":28.6,"s":50},{"x":3600,"y":28.5,"s":50},{"x":3700,"y":30.5,"s":50},{"x":3800,"y":37.2,"s":50},{"x":3900,"y":37.6,"s":50},{"x":4000,"y":40.6,"s":50},
{"x":650,"y":26.9,"s":55},{"x":760,"y":28.4,"s":55},{"x":800,"y":29.6,"s":55},{"x":840,"y":41.7,"s":55},{"x":900,"y":50.4,"s":55},{"x":1000,"y":54.4,"s":55},{"x":1030,"y":50.9,"s":55},{"x":1060,"y":56.4,"s":55},{"x":1150,"y":61.6,"s":55},{"x":1200,"y":58.8,"s":55},{"x":1250,"y":51.8,"s":55},{"x":1300,"y":45.9,"s":55},{"x":1350,"y":43,"s":55},{"x":1400,"y":42.6,"s":55},{"x":1450,"y":39.7,"s":55},{"x":1500,"y":36.2,"s":55},{"x":1550,"y":34,"s":55},{"x":1600,"y":37.5,"s":55},{"x":1640,"y":40.1,"s":55},{"x":1685,"y":33,"s":55},{"x":1725,"y":23,"s":55},{"x":1775,"y":42,"s":55},{"x":1850,"y":53.4,"s":55},{"x":1920,"y":51.4,"s":55},{"x":2000,"y":49.4,"s":55},{"x":2050,"y":50.1,"s":55},{"x":2100,"y":48.8,"s":55},{"x":2200,"y":44.3,"s":55},{"x":2270,"y":44.5,"s":55},{"x":2350,"y":52.4,"s":55},{"x":2400,"y":54.9,"s":55},{"x":2470,"y":57.5,"s":55},{"x":2500,"y":59,"s":55},{"x":2550,"y":54.9,"s":55},{"x":2620,"y":49,"s":55},{"x":2700,"y":43.9,"s":55},{"x":2750,"y":46.2,"s":55},{"x":2800,"y":42.5,"s":55},{"x":2870,"y":37.9,"s":55},{"x":2950,"y":35.9,"s":55},{"x":3000,"y":34.6,"s":55},{"x":3050,"y":35.8,"s":55},{"x":3100,"y":41.8,"s":55},{"x":3150,"y":48.9,"s":55},{"x":3230,"y":57.8,"s":55},{"x":3280,"y":55.8,"s":55},{"x":3330,"y":52.1,"s":55},{"x":3400,"y":38.8,"s":55},{"x":3450,"y":35.1,"s":55},{"x":3500,"y":35.3,"s":55},{"x":3600,"y":35.5,"s":55},{"x":3700,"y":38.4,"s":55},{"x":3800,"y":42.9,"s":55},{"x":3900,"y":42.2,"s":55},{"x":4000,"y":44,"s":55},
{"x":650,"y":31.8,"s":60},{"x":760,"y":33.3,"s":60},{"x":800,"y":34.6,"s":60},{"x":840,"y":46.4,"s":60},{"x":900,"y":54.5,"s":60},{"x":1000,"y":58.4,"s":60},{"x":1030,"y":53.2,"s":60},{"x":1060,"y":60.5,"s":60},{"x":1150,"y":65.8,"s":60},{"x":1200,"y":63.1,"s":60},{"x":1250,"y":56.1,"s":60},{"x":1300,"y":49.9,"s":60},{"x":1350,"y":46.7,"s":60},{"x":1400,"y":45.8,"s":60},{"x":1450,"y":42.7,"s":60},{"x":1500,"y":39.1,"s":60},{"x":1550,"y":36.8,"s":60},{"x":1600,"y":39.3,"s":60},{"x":1640,"y":41.7,"s":60},{"x":1675,"y":34,"s":60},{"x":1710,"y":26,"s":60},{"x":1760,"y":48,"s":60},{"x":1850,"y":58.3,"s":60},{"x":1920,"y":56.2,"s":60},{"x":2000,"y":53.4,"s":60},{"x":2050,"y":53.3,"s":60},{"x":2100,"y":52.2,"s":60},{"x":2200,"y":49.5,"s":60},{"x":2270,"y":49.1,"s":60},{"x":2350,"y":56.5,"s":60},{"x":2400,"y":59.8,"s":60},{"x":2470,"y":63.5,"s":60},{"x":2500,"y":65,"s":60},{"x":2550,"y":60.8,"s":60},{"x":2620,"y":54.5,"s":60},{"x":2700,"y":49.7,"s":60},{"x":2750,"y":51.7,"s":60},{"x":2800,"y":47.9,"s":60},{"x":2870,"y":43.8,"s":60},{"x":2950,"y":43.6,"s":60},{"x":3000,"y":42.3,"s":60},{"x":3050,"y":42.9,"s":60},{"x":3100,"y":48.1,"s":60},{"x":3150,"y":53.7,"s":60},{"x":3230,"y":60.5,"s":60},{"x":3280,"y":58.3,"s":60},{"x":3330,"y":53.7,"s":60},{"x":3400,"y":41.5,"s":60},{"x":3450,"y":40.3,"s":60},{"x":3500,"y":42.4,"s":60},{"x":3600,"y":42.8,"s":60},{"x":3700,"y":46.8,"s":60},{"x":3800,"y":48.8,"s":60},{"x":3900,"y":47,"s":60},{"x":4000,"y":47.6,"s":60},
{"x":650,"y":37.3,"s":65},{"x":760,"y":38.8,"s":65},{"x":800,"y":40.2,"s":65},{"x":840,"y":51.6,"s":65},{"x":900,"y":59.1,"s":65},{"x":1000,"y":62.8,"s":65},{"x":1030,"y":55.8,"s":65},{"x":1060,"y":65.1,"s":65},{"x":1150,"y":70.5,"s":65},{"x":1200,"y":67.9,"s":65},{"x":1250,"y":60.9,"s":65},{"x":1300,"y":54.3,"s":65},{"x":1350,"y":50.9,"s":65},{"x":1400,"y":49.4,"s":65},{"x":1450,"y":46.1,"s":65},{"x":1500,"y":42.3,"s":65},{"x":1550,"y":39.9,"s":65},{"x":1600,"y":41.3,"s":65},{"x":1640,"y":43.5,"s":65},{"x":1665,"y":36,"s":65},{"x":1695,"y":29.5,"s":65},{"x":1740,"y":54,"s":65},{"x":1800,"y":62,"s":65},{"x":1850,"y":63.8,"s":65},{"x":1920,"y":61.5,"s":65},{"x":2000,"y":57.8,"s":65},{"x":2050,"y":56.9,"s":65},{"x":2100,"y":55.9,"s":65},{"x":2200,"y":55.2,"s":65},{"x":2270,"y":54.2,"s":65},{"x":2350,"y":61.1,"s":65},{"x":2400,"y":65.3,"s":65},{"x":2470,"y":70,"s":65},{"x":2500,"y":71,"s":65},{"x":2550,"y":67.4,"s":65},{"x":2620,"y":60.7,"s":65},{"x":2700,"y":56.1,"s":65},{"x":2750,"y":57.8,"s":65},{"x":2800,"y":53.9,"s":65},{"x":2870,"y":50.4,"s":65},{"x":2950,"y":52.2,"s":65},{"x":3000,"y":50.8,"s":65},{"x":3050,"y":50.8,"s":65},{"x":3100,"y":55.1,"s":65},{"x":3150,"y":59,"s":65},{"x":3230,"y":63.5,"s":65},{"x":3280,"y":61.1,"s":65},{"x":3330,"y":55.5,"s":65},{"x":3400,"y":44.5,"s":65},{"x":3450,"y":46.1,"s":65},{"x":3500,"y":50.3,"s":65},{"x":3600,"y":51,"s":65},{"x":3700,"y":56.1,"s":65},{"x":3800,"y":55.4,"s":65},{"x":3900,"y":52.4,"s":65},{"x":4000,"y":51.6,"s":65},
{"x":650,"y":42,"s":70},{"x":760,"y":43.5,"s":70},{"x":800,"y":45,"s":70},{"x":840,"y":56,"s":70},{"x":900,"y":63,"s":70},{"x":1000,"y":66.5,"s":70},{"x":1030,"y":58,"s":70},{"x":1060,"y":69,"s":70},{"x":1150,"y":74.5,"s":70},{"x":1200,"y":72,"s":70},{"x":1250,"y":65,"s":70},{"x":1300,"y":58,"s":70},{"x":1350,"y":54.5,"s":70},{"x":1400,"y":52.5,"s":70},{"x":1450,"y":49,"s":70},{"x":1500,"y":45,"s":70},{"x":1550,"y":42.5,"s":70},{"x":1600,"y":43,"s":70},{"x":1640,"y":45,"s":70},{"x":1660,"y":40,"s":70},{"x":1680,"y":32,"s":70},{"x":1720,"y":50,"s":70},{"x":1760,"y":63,"s":70},{"x":1800,"y":68,"s":70},{"x":1850,"y":68.5,"s":70},{"x":1920,"y":66,"s":70},{"x":2000,"y":61.5,"s":70},{"x":2050,"y":60,"s":70},{"x":2100,"y":59,"s":70},{"x":2200,"y":60,"s":70},{"x":2270,"y":58.5,"s":70},{"x":2350,"y":65,"s":70},{"x":2400,"y":70,"s":70},{"x":2470,"y":74,"s":70},{"x":2500,"y":74.5,"s":70},{"x":2550,"y":73,"s":70},{"x":2620,"y":66,"s":70},{"x":2700,"y":61.5,"s":70},{"x":2750,"y":63,"s":70},{"x":2800,"y":59,"s":70},{"x":2870,"y":56,"s":70},{"x":2950,"y":59.5,"s":70},{"x":3000,"y":58,"s":70},{"x":3050,"y":57.5,"s":70},{"x":3100,"y":61,"s":70},{"x":3150,"y":63.5,"s":70},{"x":3230,"y":66,"s":70},{"x":3280,"y":63.5,"s":70},{"x":3330,"y":57,"s":70},{"x":3400,"y":47,"s":70},{"x":3450,"y":51,"s":70},{"x":3500,"y":57,"s":70},{"x":3600,"y":58,"s":70},{"x":3700,"y":64,"s":70},{"x":3800,"y":61,"s":70},{"x":3900,"y":57,"s":70},{"x":4000,"y":55,"s":70}
],
"f": [
{"x":650,"y":2,"s":40},{"x":700,"y":3,"s":40},{"x":740,"y":4.5,"s":40},{"x":770,"y":6,"s":40},{"x":790,"y":9,"s":40},{"x":800,"y":11,"s":40},{"x":810,"y":13.5,"s":40},{"x":820,"y":15.5,"s":40},{"x":830,"y":16,"s":40},{"x":850,"y":15.5,"s":40},{"x":880,"y":15,"s":40},{"x":920,"y":15.5,"s":40},{"x":960,"y":19,"s":40},{"x":1000,"y":24,"s":40},{"x":1040,"y":27.7,"s":40},{"x":1100,"y":26.5,"s":40},{"x":1170,"y":25,"s":40},{"x":1230,"y":24.3,"s":40},{"x":1290,"y":25,"s":40},{"x":1350,"y":24,"s":40},{"x":1400,"y":22.5,"s":40},{"x":1450,"y":20,"s":40},{"x":1500,"y":18,"s":40},{"x":1550,"y":16.8,"s":40},{"x":1555,"y":14.5,"s":40},{"x":1560,"y":16.6,"s":40},{"x":1600,"y":16,"s":40},{"x":1645,"y":15.3,"s":40},{"x":1650,"y":13.5,"s":40},{"x":1655,"y":15.2,"s":40},{"x":1700,"y":15,"s":40},{"x":1800,"y":15,"s":40},{"x":1850,"y":14.5,"s":40},{"x":1900,"y":13,"s":40},{"x":2000,"y":10,"s":40},
{"x":650,"y":3,"s":45},{"x":700,"y":4,"s":45},{"x":740,"y":5.5,"s":45},{"x":770,"y":7,"s":45},{"x":790,"y":10,"s":45},{"x":800,"y":13,"s":45},{"x":810,"y":16.5,"s":45},{"x":820,"y":19,"s":45},{"x":830,"y":19.5,"s":45},{"x":850,"y":19,"s":45},{"x":880,"y":18,"s":45},{"x":920,"y":18.2,"s":45},{"x":960,"y":22,"s":45},{"x":1000,"y":27.5,"s":45},{"x":1040,"y":31,"s":45},{"x":1100,"y":29.5,"s":45},{"x":1170,"y":28.3,"s":45},{"x":1230,"y":27.5,"s":45},{"x":1290,"y":27.8,"s":45},{"x":1350,"y":27,"s":45},{"x":1400,"y":25.5,"s":45},{"x":1450,"y":23,"s":45},{"x":1500,"y":21,"s":45},{"x":1550,"y":19.5,"s":45},{"x":1555,"y":17,"s":45},{"x":1560,"y":19.3,"s":45},{"x":1600,"y":18.5,"s":45},{"x":1645,"y":17.7,"s":45},{"x":1650,"y":15.5,"s":45},{"x":1655,"y":17.6,"s":45},{"x":1700,"y":17.3,"s":45},{"x":1800,"y":17.2,"s":45},{"x":1850,"y":16.8,"s":45},{"x":1900,"y":15,"s":45},{"x":2000,"y":12,"s":45},
{"x":650,"y":3.5,"s":50},{"x":700,"y":4.5,"s":50},{"x":740,"y":6,"s":50},{"x":770,"y":8,"s":50},{"x":790,"y":11,"s":50},{"x":800,"y":15,"s":50},{"x":810,"y":20,"s":50},{"x":820,"y":24,"s":50},{"x":830,"y":25,"s":50},{"x":850,"y":23.5,"s":50},{"x":880,"y":22,"s":50},{"x":920,"y":21.8,"s":50},{"x":960,"y":25.5,"s":50},{"x":1000,"y":31,"s":50},{"x":1040,"y":34,"s":50},{"x":1100,"y":32.8,"s":50},{"x":1170,"y":31.8,"s":50},{"x":1230,"y":30.5,"s":50},{"x":1290,"y":30.8,"s":50},{"x":1350,"y":30,"s":50},{"x":1400,"y":28.5,"s":50},{"x":1450,"y":26,"s":50},{"x":1500,"y":24,"s":50},{"x":1550,"y":22.5,"s":50},{"x":1555,"y":20,"s":50},{"x":1560,"y":22.3,"s":50},{"x":1600,"y":21.5,"s":50},{"x":1645,"y":20.7,"s":50},{"x":1650,"y":18.5,"s":50},{"x":1655,"y":20.6,"s":50},{"x":1700,"y":20.2,"s":50},{"x":1800,"y":20,"s":50},{"x":1850,"y":19.5,"s":50},{"x":1900,"y":18,"s":50},{"x":2000,"y":15,"s":50},
{"x":650,"y":4.6,"s":55},{"x":700,"y":5.5,"s":55},{"x":740,"y":7,"s":55},{"x":770,"y":9,"s":55},{"x":790,"y":12.5,"s":55},{"x":800,"y":17,"s":55},{"x":810,"y":24,"s":55},{"x":820,"y":29,"s":55},{"x":830,"y":30.4,"s":55},{"x":850,"y":28.5,"s":55},{"x":880,"y":26.5,"s":55},{"x":920,"y":26,"s":55},{"x":960,"y":29.5,"s":55},{"x":1000,"y":35,"s":55},{"x":1040,"y":37.8,"s":55},{"x":1100,"y":36.8,"s":55},{"x":1170,"y":36,"s":55},{"x":1230,"y":34.5,"s":55},{"x":1290,"y":34.9,"s":55},{"x":1350,"y":34,"s":55},{"x":1400,"y":32.5,"s":55},{"x":1450,"y":30,"s":55},{"x":1500,"y":28,"s":55},{"x":1550,"y":26.5,"s":55},{"x":1555,"y":24,"s":55},{"x":1560,"y":26.3,"s":55},{"x":1600,"y":25.5,"s":55},{"x":1645,"y":24.7,"s":55},{"x":1650,"y":22.5,"s":55},{"x":1655,"y":24.6,"s":55},{"x":1700,"y":24.2,"s":55},{"x":1800,"y":23.8,"s":55},{"x":1850,"y":23,"s":55},{"x":1900,"y":21.5,"s":55},{"x":2000,"y":18.5,"s":55},
{"x":650,"y":7,"s":60},{"x":700,"y":8,"s":60},{"x":740,"y":9.5,"s":60},{"x":770,"y":11.5,"s":60},{"x":790,"y":15,"s":60},{"x":800,"y":20,"s":60},{"x":810,"y":28,"s":60},{"x":820,"y":34.5,"s":60},{"x":830,"y":36.9,"s":60},{"x":850,"y":35,"s":60},{"x":880,"y":33,"s":60},{"x":920,"y":31.8,"s":60},{"x":960,"y":35,"s":60},{"x":1000,"y":40.5,"s":60},{"x":1040,"y":42.8,"s":60},{"x":1100,"y":42,"s":60},{"x":1170,"y":41.5,"s":60},{"x":1230,"y":39.8,"s":60},{"x":1290,"y":40,"s":60},{"x":1350,"y":39,"s":60},{"x":1400,"y":37.5,"s":60},{"x":1450,"y":35.5,"s":60},{"x":1500,"y":33.5,"s":60},{"x":1550,"y":32,"s":60},{"x":1555,"y":29.5,"s":60},{"x":1560,"y":31.8,"s":60},{"x":1600,"y":31,"s":60},{"x":1645,"y":30,"s":60},{"x":1650,"y":27.5,"s":60},{"x":1655,"y":29.8,"s":60},{"x":1700,"y":29.2,"s":60},{"x":1800,"y":28.5,"s":60},{"x":1850,"y":27.5,"s":60},{"x":1900,"y":26,"s":60},{"x":2000,"y":23.4,"s":60},
{"x":650,"y":12,"s":65},{"x":700,"y":12.5,"s":65},{"x":720,"y":13,"s":65},{"x":730,"y":10,"s":65},{"x":740,"y":14,"s":65},{"x":770,"y":16,"s":65},{"x":790,"y":20,"s":65},{"x":800,"y":26,"s":65},{"x":810,"y":36,"s":65},{"x":820,"y":44.5,"s":65},{"x":830,"y":47.3,"s":65},{"x":850,"y":45,"s":65},{"x":880,"y":42,"s":65},{"x":920,"y":40.4,"s":65},{"x":960,"y":42,"s":65},{"x":1000,"y":46,"s":65},{"x":1040,"y":47.6,"s":65},{"x":1100,"y":47,"s":65},{"x":1170,"y":46.3,"s":65},{"x":1230,"y":45.3,"s":65},{"x":1290,"y":45.7,"s":65},{"x":1350,"y":45,"s":65},{"x":1400,"y":43.5,"s":65},{"x":1450,"y":41,"s":65},{"x":1500,"y":39,"s":65},{"x":1550,"y":38,"s":65},{"x":1555,"y":35.5,"s":65},{"x":1560,"y":37.8,"s":65},{"x":1600,"y":37,"s":65},{"x":1645,"y":36,"s":65},{"x":1650,"y":33.5,"s":65},{"x":1655,"y":35.8,"s":65},{"x":1700,"y":35.5,"s":65},{"x":1800,"y":35,"s":65},{"x":1850,"y":34,"s":65},{"x":1900,"y":33,"s":65},{"x":2000,"y":31.5,"s":65},
{"x":650,"y":17.5,"s":70},{"x":700,"y":18,"s":70},{"x":740,"y":19.5,"s":70},{"x":770,"y":21.5,"s":70},{"x":790,"y":27,"s":70},{"x":800,"y":34,"s":70},{"x":810,"y":43,"s":70},{"x":820,"y":49.5,"s":70},{"x":830,"y":52,"s":70},{"x":850,"y":50.5,"s":70},{"x":880,"y":48,"s":70},{"x":920,"y":47,"s":70},{"x":960,"y":48.5,"s":70},{"x":1000,"y":52,"s":70},{"x":1040,"y":54.5,"s":70},{"x":1100,"y":54,"s":70},{"x":1170,"y":53.8,"s":70},{"x":1230,"y":52.5,"s":70},{"x":1290,"y":53.2,"s":70},{"x":1350,"y":52,"s":70},{"x":1400,"y":49.5,"s":70},{"x":1450,"y":48,"s":70},{"x":1500,"y":46.5,"s":70},{"x":1550,"y":45.5,"s":70},{"x":1555,"y":43,"s":70},{"x":1560,"y":45.3,"s":70},{"x":1600,"y":44.5,"s":70},{"x":1645,"y":43.5,"s":70},{"x":1650,"y":41,"s":70},{"x":1655,"y":43.3,"s":70},{"x":1700,"y":42.8,"s":70},{"x":1800,"y":41.5,"s":70},{"x":1850,"y":41,"s":70},{"x":1900,"y":40,"s":70},{"x":2000,"y":38.5,"s":70}
]
},
"concat": [
{
 "title": "Unpatterned Sample, TE Transmission",
 "width": 338, "height": 207,
 "layer": [
  {"data": {"name": "a"}, "mark": {"type": "line", "interpolate": "monotone", "strokeWidth": 2.2, "clip": true},
   "encoding": {
    "x": {"field": "x", "type": "quantitative", "scale": {"domain": [482.5, 4167.5], "nice": false, "zero": false}, "axis": {"values": [1000, 2000, 3000, 4000], "format": "d", "title": "Wavenumber (cm⁻¹)"}},
    "y": {"field": "y", "type": "quantitative", "scale": {"domain": [-0.6, 79.1], "nice": false, "zero": false}, "axis": {"values": [0, 20, 40, 60], "title": "Transmittance (%)"}},
    "color": {"field": "s", "type": "nominal", "scale": {"domain": [0, 10, 20, 30, 40, 50], "range": ["#29FFCE", "#7BFF7B", "#CEFF29", "#FFC700", "#FF6800", "#F30900"]}, "legend": {"title": null, "labelExpr": "datum.label + ' °'"}}
   }},
  {"data": {"values": [{"x": 605, "y": 72.2, "t": "(a)"}]}, "mark": {"type": "text", "align": "left", "baseline": "middle", "fontSize": 18},
   "encoding": {"x": {"field": "x", "type": "quantitative"}, "y": {"field": "y", "type": "quantitative"}, "text": {"field": "t"}}}
 ]
},
{
 "title": "Photonic Crystal, TE Transmission",
 "width": 338, "height": 207,
 "layer": [
  {"data": {"name": "b"}, "mark": {"type": "line", "interpolate": "monotone", "strokeWidth": 2.2, "clip": true},
   "encoding": {
    "x": {"field": "x", "type": "quantitative", "scale": {"domain": [482.5, 4167.5], "nice": false, "zero": false}, "axis": {"values": [1000, 2000, 3000, 4000], "format": "d", "title": "Wavenumber (cm⁻¹)"}},
    "y": {"field": "y", "type": "quantitative", "scale": {"domain": [-1.3, 71.1], "nice": false, "zero": false}, "axis": {"values": [0, 20, 40, 60], "title": "Transmittance (%)"}},
    "color": {"field": "s", "type": "nominal", "scale": {"domain": [0, 10, 20, 30, 40, 50], "range": ["#29FFCE", "#7BFF7B", "#CEFF29", "#FFC700", "#FF6800", "#F30900"]}, "legend": {"title": null, "labelExpr": "datum.label + ' °'"}}
   }},
  {"data": {"values": [{"x": 571, "y": 65, "t": "(b)"}]}, "mark": {"type": "text", "align": "left", "baseline": "middle", "fontSize": 18},
   "encoding": {"x": {"field": "x", "type": "quantitative"}, "y": {"field": "y", "type": "quantitative"}, "text": {"field": "t"}}}
 ]
},
{
 "title": "1.8 μm SHU, TE Transmission",
 "width": 338, "height": 207,
 "layer": [
  {"data": {"name": "c"}, "mark": {"type": "line", "interpolate": "monotone", "strokeWidth": 2.2, "clip": true},
   "encoding": {
    "x": {"field": "x", "type": "quantitative", "scale": {"domain": [482.5, 4167.5], "nice": false, "zero": false}, "axis": {"values": [1000, 2000, 3000, 4000], "format": "d", "title": "Wavenumber (cm⁻¹)"}},
    "y": {"field": "y", "type": "quantitative", "scale": {"domain": [-1.2, 26.4], "nice": false, "zero": false}, "axis": {"values": [0, 5, 10, 15, 20, 25], "title": "Transmittance (%)"}},
    "color": {"field": "s", "type": "nominal", "scale": {"domain": [0, 10, 20, 30, 40, 50], "range": ["#29FFCE", "#7BFF7B", "#CEFF29", "#FFC700", "#FF6800", "#F30900"]}, "legend": {"title": null, "labelExpr": "datum.label + ' °'"}}
   }},
  {"data": {"values": [{"x": 576, "y": 23.7, "t": "(c)"}]}, "mark": {"type": "text", "align": "left", "baseline": "middle", "fontSize": 18},
   "encoding": {"x": {"field": "x", "type": "quantitative"}, "y": {"field": "y", "type": "quantitative"}, "text": {"field": "t"}}}
 ]
},
{
 "title": "Unpatterned Sample, TE Reflection",
 "width": 338, "height": 207,
 "layer": [
  {"data": {"name": "d"}, "mark": {"type": "line", "interpolate": "monotone", "strokeWidth": 2.2, "clip": true},
   "encoding": {
    "x": {"field": "x", "type": "quantitative", "scale": {"domain": [482.5, 4167.5], "nice": false, "zero": false}, "axis": {"values": [1000, 2000, 3000, 4000], "format": "d", "title": "Wavenumber (cm⁻¹)"}},
    "y": {"field": "y", "type": "quantitative", "scale": {"domain": [41.1, 88.4], "nice": false, "zero": false}, "axis": {"values": [50, 60, 70, 80], "title": "Reflectance (%)"}},
    "color": {"field": "s", "type": "nominal", "scale": {"domain": [45, 50, 55, 60, 65, 70], "range": ["#29FFCE", "#7BFF7B", "#CEFF29", "#FFC700", "#FF6800", "#F30900"]}, "legend": {"title": null, "labelExpr": "datum.label + ' °'"}}
   }},
  {"data": {"values": [{"x": 885, "y": 83.6, "t": "(d)"}]}, "mark": {"type": "text", "align": "left", "baseline": "middle", "fontSize": 18},
   "encoding": {"x": {"field": "x", "type": "quantitative"}, "y": {"field": "y", "type": "quantitative"}, "text": {"field": "t"}}}
 ]
},
{
 "title": "Photonic Crystal, TE Reflection",
 "width": 338, "height": 207,
 "layer": [
  {"data": {"name": "e"}, "mark": {"type": "line", "interpolate": "monotone", "strokeWidth": 2.2, "clip": true},
   "encoding": {
    "x": {"field": "x", "type": "quantitative", "scale": {"domain": [482.5, 4167.5], "nice": false, "zero": false}, "axis": {"values": [1000, 2000, 3000, 4000], "format": "d", "title": "Wavenumber (cm⁻¹)"}},
    "y": {"field": "y", "type": "quantitative", "scale": {"domain": [11.3, 77.6], "nice": false, "zero": false}, "axis": {"values": [20, 40, 60], "title": "Reflectance (%)"}},
    "color": {"field": "s", "type": "nominal", "scale": {"domain": [40, 45, 50, 55, 60, 65, 70], "range": ["#29FFCE", "#6EFF89", "#B2FF45", "#F7F500", "#FFA700", "#FF5800", "#F30900"]}, "legend": {"title": null, "labelExpr": "datum.label + ' °'"}}
   }},
  {"data": {"values": [{"x": 601, "y": 71.8, "t": "(e)"}]}, "mark": {"type": "text", "align": "left", "baseline": "middle", "fontSize": 18},
   "encoding": {"x": {"field": "x", "type": "quantitative"}, "y": {"field": "y", "type": "quantitative"}, "text": {"field": "t"}}}
 ]
},
{
 "title": "1.8 μm SHU, TE Reflection",
 "width": 338, "height": 207,
 "layer": [
  {"data": {"name": "f"}, "mark": {"type": "line", "interpolate": "monotone", "strokeWidth": 2.2, "clip": true},
   "encoding": {
    "x": {"field": "x", "type": "quantitative", "scale": {"domain": [585, 2000], "nice": false, "zero": false}, "axis": {"values": [750, 1000, 1250, 1500, 1750, 2000], "format": "d", "title": "Wavenumber (cm⁻¹)"}},
    "y": {"field": "y", "type": "quantitative", "scale": {"domain": [-1.6, 56.9], "nice": false, "zero": false}, "axis": {"values": [0, 10, 20, 30, 40, 50], "title": "Reflectance (%)"}},
    "color": {"field": "s", "type": "nominal", "scale": {"domain": [40, 45, 50, 55, 60, 65, 70], "range": ["#29FFCE", "#6EFF89", "#B2FF45", "#F7F500", "#FFA700", "#FF5800", "#F30900"]}, "legend": {"title": null, "labelExpr": "datum.label + ' °'"}}
   }},
  {"data": {"values": [{"x": 785, "x2": 870, "y": 0, "y2": 56}]}, "mark": {"type": "rect", "fillOpacity": 0, "stroke": "black", "strokeWidth": 1.2},
   "encoding": {"x": {"field": "x", "type": "quantitative"}, "x2": {"field": "x2"}, "y": {"field": "y", "type": "quantitative"}, "y2": {"field": "y2"}}},
  {"data": {"values": [{"x": 636, "y": 51.4, "t": "(f)"}]}, "mark": {"type": "text", "align": "left", "baseline": "middle", "fontSize": 18},
   "encoding": {"x": {"field": "x", "type": "quantitative"}, "y": {"field": "y", "type": "quantitative"}, "text": {"field": "t"}}}
 ]
}
]
}
